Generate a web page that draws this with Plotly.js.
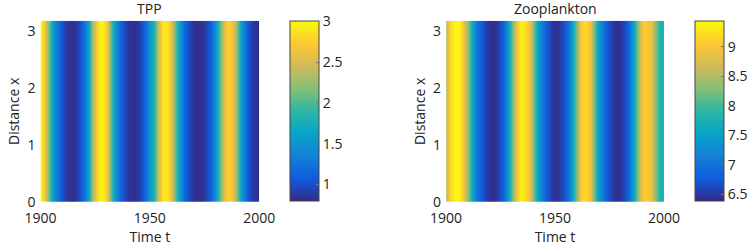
<!DOCTYPE html>
<html>
<head>
<meta charset="utf-8">
<script src="https://cdn.plot.ly/plotly-3.0.1.min.js"></script>
<style>html,body{margin:0;padding:0;background:#fff;}#chart{width:751px;height:247px;}</style>
</head>
<body>
<div id="chart"></div>
<script>
// Time axis (years), sampled every 2 years
var years = [1900,1902,1904,1906,1908,1910,1912,1914,1916,1918,1920,1922,1924,1926,1928,1930,1932,1934,1936,1938,1940,1942,1944,1946,1948,1950,1952,1954,1956,1958,1960,1962,1964,1966,1968,1970,1972,1974,1976,1978,1980,1982,1984,1986,1988,1990,1992,1994,1996,1998,2000];
// Distance axis
var distance = [0, 3.18];
// TPP values over time (uniform across distance)
var tpp = [3.0,2.7,2.0,1.5,1.2,1.0,0.88,0.82,0.85,1.0,1.25,1.65,2.3,2.85,3.0,2.75,2.1,1.55,1.2,1.0,0.88,0.82,0.85,0.98,1.2,1.5,1.9,2.5,2.9,2.9,2.55,1.9,1.45,1.15,0.95,0.85,0.82,0.85,0.95,1.15,1.5,2.0,2.6,2.8,2.65,2.1,1.5,1.15,0.95,0.85,0.82];
// Zooplankton values over time
var zoo = [8.6,9.2,9.4,9.4,9.0,8.3,7.6,7.1,6.8,6.6,6.45,6.42,6.55,6.85,7.3,8.0,8.9,9.35,9.3,8.95,8.3,7.6,7.1,6.8,6.55,6.42,6.5,6.7,7.0,7.5,8.4,9.1,9.2,8.95,8.2,7.5,7.05,6.75,6.55,6.42,6.48,6.65,6.95,7.5,8.4,9.0,9.1,8.9,8.35,7.85,7.6];
var tppTicks = [1, 1.5, 2, 2.5, 3];
var zooTicks = [6.5, 7, 7.5, 8, 8.5, 9];
var xTicks = [1900, 1950, 2000];
var yTicks = [0, 1, 2, 3];

var parulaHex = ['#352a87','#0f5cdd','#1481d6','#06a4ca','#2eb7a4','#87bf77','#d1bb59','#fec832','#f9fb0e'];
var parula = parulaHex.map(function(c,i){return [i/(parulaHex.length-1), c];});

function rows(v){ return distance.map(function(){ return v; }); }

var font = {family:'"Open Sans", sans-serif', size:14, color:'#222'};

function cbar(xpos, ticks){
  return {
    x: xpos, xanchor:'left', xref:'paper', xpad:0, ypad:0,
    y: 0.552, yanchor:'middle', yref:'paper',
    len: 180, lenmode:'pixels',
    thickness: 29, thicknessmode:'pixels',
    outlinewidth: 1, outlinecolor:'#444',
    tickvals: ticks, ticks:'inside', ticklen:3, tickcolor:'#777',
    tickfont: font, ticklabelposition:'outside'
  };
}

var traces = [
  {type:'heatmap', x: years, y: distance, z: rows(tpp), colorscale: parula, zsmooth:'best',
   zmin:0.80, zmax:3.01, xaxis:'x', yaxis:'y', colorbar: cbar(0.3875, tppTicks), hoverinfo:'skip'},
  {type:'heatmap', x: years, y: distance, z: rows(zoo), colorscale: parula, zsmooth:'best',
   zmin:6.39, zmax:9.44, xaxis:'x2', yaxis:'y2', colorbar: cbar(0.9277, zooTicks), hoverinfo:'skip'}
];

function xax(dom, anchor){
  return {domain: dom, anchor: anchor, range:[1900,2000], tickvals: xTicks, ticks:'', showgrid:false, zeroline:false,
    showline:false, tickfont: font, ticklabelstandoff: 6, title:{text:'Time t', font: font, standoff: 4}};
}
function yax(anchor){
  return {domain:[0.182,0.916], anchor: anchor, range:[0,3.18], tickvals: yTicks, ticks:'', showgrid:false, zeroline:false,
    showline:false, tickfont: font, ticklabelstandoff: 4, title:{text:'Distance x', font: font, standoff: 4}};
}

var layout = {
  width:751, height:247,
  margin:{l:0,r:0,t:0,b:0},
  paper_bgcolor:'#fff', plot_bgcolor:'#fff',
  font: font,
  showlegend:false,
  xaxis: xax([0.054,0.346],'y'),
  yaxis: yax('x'),
  xaxis2: xax([0.5956,0.8864],'y2'),
  yaxis2: yax('x2'),
  annotations:[
    {text:'TPP', xref:'paper', yref:'paper', x:(0.054+0.346)/2, y:1-8.5/247, xanchor:'center', yanchor:'middle', showarrow:false, font:{family:font.family,size:14,color:'#222'}},
    {text:'Zooplankton', xref:'paper', yref:'paper', x:(0.5956+0.8864)/2, y:1-8.5/247, xanchor:'center', yanchor:'middle', showarrow:false, font:{family:font.family,size:14,color:'#222'}}
  ]
};

Plotly.newPlot('chart', traces, layout, {staticPlot:true, displayModeBar:false});
</script>
</body>
</html>
